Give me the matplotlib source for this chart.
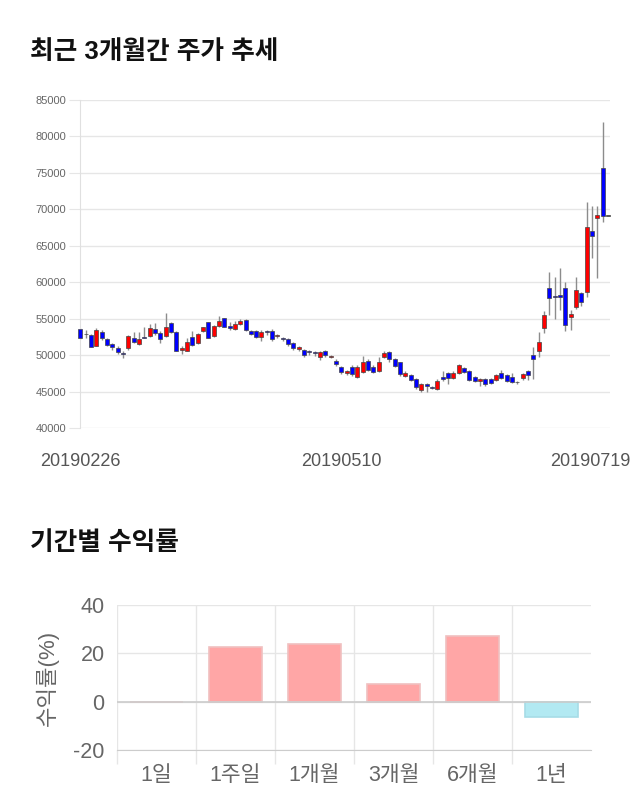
import matplotlib
matplotlib.use("Agg")
import matplotlib.pyplot as plt
import matplotlib.transforms as mtransforms
import numpy as np

plt.rcParams['font.family'] = ['Liberation Sans', 'Noto Sans CJK KR']

# 최근 3개월 일봉 (시가, 고가, 저가, 종가) - 그림에서 눈으로 읽은 값
opens = [53600, 52900, 52760, 51290, 53150, 52210, 51480, 51030, 50340, 50940,
         52310, 51530, 52440, 52680, 53590, 52990, 52680, 54370, 53150, 50700,
         50620, 52440, 51660, 53360, 54510, 52680, 54030, 55050, 54000, 53590,
         54270, 54820, 53360, 53360, 52450, 53310, 53310, 52580, 52310, 52210,
         51620, 50800, 50710, 50570, 50390, 49710, 50570, 49740, 49240, 48370,
         47550, 48420, 46960, 47740, 49240, 48420, 47870, 49790, 50480, 49470,
         49010, 47180, 47270, 46680, 45210, 46000, 45590, 45360, 47050, 47520,
         46910, 47520, 48190, 47870, 46960, 46500, 46680, 46680, 46590, 47520,
         47270, 46960, 46360, 46820, 47870, 50010, 50620, 53680, 59260, 58110,
         58250, 59260, 55180, 56650, 58480, 58620, 67030, 68770, 75630, 69100]
highs = [53700, 53500, 52900, 53780, 53400, 52300, 51700, 51300, 50500, 52800,
         53220, 53200, 53800, 54300, 54400, 53300, 55740, 54600, 53300, 51300,
         52400, 53300, 53000, 53900, 54600, 54100, 55370, 55100, 54600, 54700,
         54900, 55000, 53500, 53500, 53400, 53500, 53600, 52900, 52500, 52400,
         51800, 51300, 50900, 50700, 50500, 50600, 50700, 50000, 49400, 48500,
         48000, 48600, 48600, 49900, 49400, 48600, 49800, 50500, 50600, 49600,
         49100, 47800, 47400, 46800, 46200, 46200, 45800, 46700, 47800, 47700,
         47800, 48800, 48400, 48000, 47100, 46800, 46900, 46900, 47400, 47900,
         47400, 47500, 46500, 47600, 48000, 51150, 53220, 56090, 61360, 60770,
         61910, 60070, 56190, 60680, 58600, 71050, 70500, 70500, 82020, 69100]
lows = [52200, 52400, 51100, 51200, 52100, 51300, 50700, 50100, 49560, 50700,
        51700, 51400, 52300, 52500, 52800, 51600, 52500, 53000, 50500, 50200,
        50500, 51200, 51500, 53200, 52300, 52500, 53900, 53800, 53500, 53400,
        54100, 53300, 52700, 52300, 52000, 52700, 52000, 52300, 51900, 51200,
        50700, 50600, 49800, 50000, 49900, 49300, 49700, 49600, 48500, 47400,
        47300, 47200, 46800, 47600, 47800, 47600, 47700, 49600, 49000, 48400,
        47200, 47000, 46400, 45400, 45000, 44900, 45300, 45200, 46500, 46100,
        46700, 47400, 47600, 46400, 46300, 45800, 45800, 46000, 46400, 46700,
        46300, 46200, 46000, 46600, 46600, 46680, 49800, 53050, 55500, 54900,
        56200, 53300, 53450, 56300, 56800, 58000, 63370, 60540, 68300, 69100]
closes = [52300, 52850, 51150, 53450, 52310, 51390, 51070, 50390, 50160, 52670,
          51850, 52210, 52310, 53780, 53040, 52210, 53860, 53220, 50620, 51030,
          51850, 51390, 52900, 53810, 52400, 54030, 54720, 53910, 53680, 54270,
          54730, 53450, 52860, 52450, 53220, 53130, 52170, 52720, 52210, 51480,
          51030, 51070, 49980, 50430, 50250, 50430, 49980, 49880, 48750, 47680,
          47820, 47370, 48420, 49110, 47960, 47740, 49110, 50350, 49440, 48560,
          47370, 47590, 46590, 45590, 46000, 45760, 45490, 46500, 46730, 46910,
          47600, 48650, 47730, 46590, 46500, 46680, 46000, 46230, 47270, 46910,
          46500, 46360, 46270, 47410, 47270, 49440, 51770, 55500, 57890, 57980,
          58020, 54130, 55640, 58940, 57340, 67540, 66300, 69220, 69090, 69100]
date_labels = ["20190226", "20190510", "20190719"]
date_index = [0, 49, 99]

# 기간별 수익률
periods = ["1일", "1주일", "1개월", "3개월", "6개월", "1년"]
returns = [0.0, 22.6, 23.8, 7.4, 27.1, -6.3]

fig = plt.figure(figsize=(6.4, 8.1), dpi=100)

fig.text(30/640, 1-52/810, "최근 3개월간 주가 추세", fontsize=18.5, fontweight='bold',
         va='center', ha='left', color='#111111')
fig.text(30/640, 1-543/810, "기간별 수익률", fontsize=18.5, fontweight='bold',
         va='center', ha='left', color='#111111')

# ---- 위쪽: 캔들 차트 ----
ax1 = fig.add_axes([80/640, 1-428/810, 530/640, 328/810])
x = np.arange(len(opens))
o = np.array(opens)
c = np.array(closes)
up = c > o
down = c < o
colors = np.where(up, '#ff0000', np.where(down, '#0000ff', '#333333'))
body_bottom = np.minimum(o, c)
body_height = np.maximum(np.abs(c - o), 60)

ax1.vlines(x, lows, highs, color='#8c8c8c', linewidth=1, zorder=2)
ax1.bar(x, body_height, bottom=body_bottom, width=0.75, color=colors,
        edgecolor='#444444', linewidth=0.5, zorder=3, clip_on=False)

ax1.set_xlim(-0.06, 99.4)
ax1.set_ylim(40000, 85000)
ax1.set_yticks(range(40000, 85001, 5000))
ax1.set_yticklabels([str(v) for v in range(40000, 85001, 5000)], fontsize=8, color='#666666')
ax1.tick_params(axis='y', length=8, color='#e6e6e6', pad=2)
ax1.set_xticks(date_index)
ax1.set_xticklabels(date_labels, fontsize=13, color='#555555')
ax1.tick_params(axis='x', length=0, pad=18)
# 마지막 날짜 라벨은 그림 밖으로 나가지 않게 왼쪽으로 조금 이동
last = ax1.get_xticklabels()[-1]
last.set_transform(last.get_transform() + mtransforms.ScaledTranslation(-0.18, 0, fig.dpi_scale_trans))
ax1.grid(axis='y', color='#e6e6e6', linewidth=1)
ax1.set_axisbelow(True)
for s in ['top', 'right', 'bottom']:
    ax1.spines[s].set_visible(False)
ax1.spines['left'].set_color('#e0e0e0')

# ---- 아래쪽: 기간별 수익률 막대 ----
ax2 = fig.add_axes([117/640, 1-750/810, 474/640, 145/810])
bar_colors = ['#ffa6a6' if r >= 0 else '#b2e9f2' for r in returns]
edge_colors = ['#f0c0c0' if r >= 0 else '#a6dce6' for r in returns]
ax2.bar(np.arange(len(periods)), returns, width=0.68, color=bar_colors,
        edgecolor=edge_colors, linewidth=1.2, zorder=3)
ax2.set_xlim(-0.5, len(periods) - 0.5)
ax2.set_ylim(-20, 40)
ax2.set_yticks([-20, 0, 20, 40])
ax2.set_yticklabels(['-20', '0', '20', '40'], fontsize=15.5, color='#666666')
ax2.tick_params(axis='y', length=0, pad=9)
ax2.set_xticks(np.arange(len(periods)) - 0.5)
ax2.set_xticklabels([''] * len(periods))
ax2.tick_params(axis='x', which='major', length=10, color='#e6e6e6', width=1)
ax2.set_xticks(np.arange(len(periods)), minor=True)
ax2.set_xticklabels(periods, minor=True, fontsize=15.5, color='#666666')
ax2.tick_params(axis='x', which='minor', length=0, pad=11)
ax2.grid(axis='both', which='major', color='#e6e6e6', linewidth=1, zorder=0)
ax2.axhline(0, color='#cccccc', linewidth=1.2, zorder=4)
ax2.set_axisbelow(True)
ax2.set_ylabel("수익률(%)", fontsize=16, color='#666666', labelpad=10)
for s in ['top', 'right', 'left']:
    ax2.spines[s].set_visible(False)
ax2.spines['bottom'].set_color('#cccccc')

fig.savefig("out.png", dpi=100)
